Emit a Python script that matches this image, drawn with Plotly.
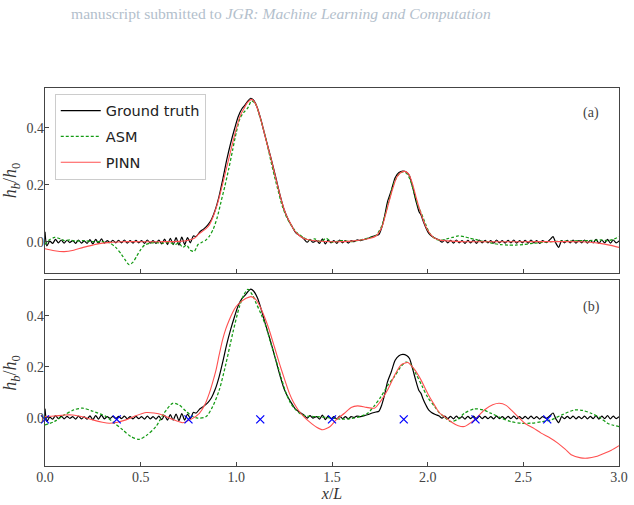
import plotly.graph_objects as go

# ---------------- data ----------------
gt_x = [0.000, 0.010, 0.025, 0.040, 0.055, 0.070, 0.085, 0.100, 0.115, 0.130, 0.145, 0.160, 0.175, 0.190,
        0.205, 0.220, 0.235, 0.250, 0.265, 0.280, 0.295, 0.310, 0.325, 0.340, 0.355, 0.370, 0.385, 0.400,
        0.415, 0.430, 0.445, 0.460, 0.475, 0.490, 0.505, 0.520, 0.535, 0.550, 0.565, 0.580, 0.595, 0.610,
        0.625, 0.640, 0.655, 0.670, 0.685, 0.700, 0.715, 0.730, 0.745, 0.760, 0.775, 0.790, 0.810, 0.830,
        0.850, 0.870, 0.890, 0.910, 0.930, 0.950, 0.970, 0.990, 1.010, 1.030, 1.045, 1.060, 1.075, 1.090,
        1.110, 1.130, 1.150, 1.170, 1.190, 1.210, 1.230, 1.250, 1.270, 1.290, 1.310, 1.330, 1.350, 1.370,
        1.385, 1.400, 1.420, 1.435, 1.450, 1.465, 1.480, 1.495, 1.510, 1.525, 1.540, 1.555, 1.570, 1.585,
        1.600, 1.615, 1.630, 1.650, 1.670, 1.690, 1.710, 1.730, 1.745, 1.760, 1.775, 1.790, 1.810, 1.830,
        1.850, 1.870, 1.890, 1.905, 1.920, 1.940, 1.955, 1.965, 1.975, 1.990, 2.005, 2.020, 2.040, 2.060,
        2.075, 2.090, 2.105, 2.120, 2.135, 2.150, 2.165, 2.180, 2.195, 2.210, 2.225, 2.240, 2.255, 2.270,
        2.285, 2.300, 2.315, 2.330, 2.345, 2.360, 2.375, 2.390, 2.405, 2.420, 2.435, 2.450, 2.465, 2.480,
        2.495, 2.510, 2.525, 2.540, 2.555, 2.570, 2.585, 2.600, 2.620, 2.640, 2.655, 2.670, 2.685, 2.700,
        2.715, 2.730, 2.745, 2.760, 2.775, 2.790, 2.805, 2.820, 2.835, 2.850, 2.865, 2.880, 2.895, 2.910,
        2.925, 2.940, 2.955, 2.970, 2.985, 3.000]
gt_y = [0.035, -0.015, 0.002, -0.006, 0.008, -0.004, 0.006, -0.005, 0.005, -0.003, 0.004, -0.006, 0.006, -0.005,
        0.003, -0.006, 0.007, -0.008, 0.008, -0.006, 0.010, -0.005, 0.004, -0.003, 0.005, -0.004, 0.005, -0.004,
        0.006, -0.005, 0.004, -0.005, 0.005, -0.004, 0.004, -0.006, 0.006, -0.005, 0.004, -0.006, 0.006, -0.008,
        0.009, -0.010, 0.012, -0.010, 0.014, -0.012, 0.016, -0.010, 0.014, -0.004, 0.020, 0.018, 0.035, 0.045,
        0.058, 0.078, 0.112, 0.160, 0.222, 0.288, 0.345, 0.395, 0.440, 0.468, 0.480, 0.494, 0.504, 0.497,
        0.470, 0.425, 0.372, 0.322, 0.270, 0.215, 0.160, 0.112, 0.080, 0.055, 0.032, 0.022, 0.012, -0.002,
        0.008, -0.002, 0.004, -0.006, 0.010, -0.008, 0.006, -0.004, 0.004, -0.006, 0.006, -0.004, 0.004, -0.005,
        0.004, 0.000, 0.006, 0.004, 0.008, 0.012, 0.018, 0.022, 0.025, 0.050, 0.090, 0.140, 0.180, 0.225,
        0.243, 0.248, 0.244, 0.232, 0.195, 0.140, 0.105, 0.095, 0.075, 0.050, 0.030, 0.020, 0.012, 0.006,
        -0.002, 0.006, -0.004, 0.005, -0.005, 0.006, -0.004, 0.004, -0.006, 0.005, -0.004, 0.006, -0.006, 0.006,
        -0.004, 0.005, -0.004, 0.004, -0.005, 0.006, -0.004, 0.004, -0.005, 0.005, -0.004, 0.006, -0.005, 0.004,
        -0.004, 0.005, -0.005, 0.006, -0.004, 0.004, -0.006, 0.004, -0.003, 0.008, 0.018, -0.005, -0.020, 0.004,
        -0.004, 0.005, -0.004, 0.006, -0.005, 0.004, -0.004, 0.006, -0.005, 0.005, -0.004, 0.008, -0.006, 0.006,
        -0.004, 0.008, -0.005, 0.006, -0.004, 0.003]

asm_a_x = [0.00, 0.02, 0.05, 0.08, 0.10, 0.13, 0.16, 0.20, 0.25, 0.30, 0.34, 0.37, 0.40, 0.42, 0.44, 0.46,
           0.48, 0.50, 0.52, 0.55, 0.58, 0.62, 0.65, 0.68, 0.70, 0.72, 0.74, 0.76, 0.78, 0.80, 0.82, 0.84,
           0.86, 0.88, 0.90, 0.92, 0.94, 0.96, 0.98, 1.00, 1.02, 1.04, 1.06, 1.08, 1.10, 1.12, 1.14, 1.16,
           1.18, 1.20, 1.22, 1.24, 1.26, 1.28, 1.30, 1.32, 1.35, 1.38, 1.41, 1.44, 1.47, 1.50, 1.55, 1.60,
           1.65, 1.70, 1.73, 1.76, 1.78, 1.80, 1.82, 1.85, 1.87, 1.89, 1.91, 1.93, 1.95, 1.97, 1.99, 2.01,
           2.04, 2.07, 2.10, 2.13, 2.16, 2.19, 2.22, 2.25, 2.28, 2.31, 2.34, 2.38, 2.42, 2.46, 2.50, 2.55,
           2.60, 2.65, 2.70, 2.75, 2.80, 2.85, 2.90, 2.94, 2.97, 3.00]
asm_a_y = [-0.010, 0.005, 0.015, 0.010, 0.004, 0.006, 0.002, 0.004, 0.000, 0.000, -0.005, -0.020, -0.045, -0.065, -0.081, -0.072,
           -0.050, -0.028, -0.012, -0.005, -0.003, -0.005, -0.002, -0.010, -0.005, -0.020, -0.012, -0.030, -0.034, -0.010, -0.002, 0.005,
           0.020, 0.045, 0.085, 0.140, 0.195, 0.255, 0.320, 0.385, 0.435, 0.455, 0.470, 0.495, 0.485, 0.445, 0.400, 0.345,
           0.285, 0.228, 0.175, 0.125, 0.090, 0.065, 0.045, 0.030, 0.015, 0.005, 0.010, 0.000, 0.012, -0.002, 0.004, 0.000,
           0.006, 0.015, 0.022, 0.055, 0.100, 0.150, 0.200, 0.238, 0.245, 0.240, 0.215, 0.170, 0.125, 0.095, 0.060, 0.030,
           0.010, 0.005, 0.010, 0.015, 0.020, 0.018, 0.012, 0.008, 0.002, 0.000, -0.006, -0.010, -0.012, -0.012, -0.010, -0.006,
           -0.002, 0.000, 0.002, 0.002, 0.004, 0.004, 0.006, 0.004, 0.008, 0.018]

pinn_a_x = [0.00, 0.05, 0.10, 0.15, 0.20, 0.25, 0.30, 0.35, 0.40, 0.50, 0.60, 0.70, 0.75, 0.78, 0.80, 0.82,
            0.84, 0.86, 0.88, 0.90, 0.92, 0.94, 0.96, 0.98, 1.00, 1.02, 1.04, 1.06, 1.08, 1.10, 1.12, 1.14,
            1.16, 1.18, 1.20, 1.22, 1.24, 1.26, 1.28, 1.30, 1.32, 1.35, 1.40, 1.50, 1.60, 1.70, 1.73, 1.76,
            1.78, 1.80, 1.82, 1.84, 1.86, 1.88, 1.90, 1.92, 1.94, 1.96, 1.98, 2.00, 2.03, 2.06, 2.10, 2.20,
            2.50, 2.80, 2.85, 2.90, 2.95, 3.00]
pinn_a_y = [-0.025, -0.032, -0.035, -0.030, -0.020, -0.012, -0.005, -0.002, 0.000, 0.000, 0.000, 0.001, 0.005, 0.012, 0.025, 0.035,
            0.045, 0.060, 0.090, 0.130, 0.180, 0.235, 0.290, 0.345, 0.398, 0.442, 0.468, 0.490, 0.500, 0.485, 0.448, 0.398,
            0.345, 0.295, 0.240, 0.185, 0.135, 0.095, 0.068, 0.043, 0.027, 0.012, 0.004, 0.000, 0.002, 0.012, 0.020, 0.050,
            0.095, 0.145, 0.192, 0.228, 0.243, 0.247, 0.238, 0.205, 0.155, 0.110, 0.070, 0.040, 0.015, 0.006, 0.003, 0.000,
            0.000, 0.000, -0.002, -0.006, -0.012, -0.020]

asm_b_x = [0.00, 0.05, 0.10, 0.15, 0.197, 0.25, 0.319, 0.36, 0.406, 0.45, 0.493, 0.53, 0.58, 0.62, 0.667, 0.70,
           0.737, 0.77, 0.798, 0.842, 0.876, 0.911, 0.946, 0.981, 1.016, 1.04, 1.06, 1.085, 1.10, 1.13,
           1.155, 1.18, 1.207, 1.235, 1.26, 1.285, 1.312, 1.34, 1.38, 1.42, 1.48, 1.55, 1.60, 1.65, 1.686, 1.72, 1.756,
           1.79, 1.826, 1.86, 1.887, 1.91, 1.94, 1.97, 2.00, 2.035, 2.06, 2.09, 2.122, 2.16, 2.192, 2.244, 2.29,
           2.331, 2.38, 2.436, 2.49, 2.54, 2.60, 2.645, 2.70, 2.767, 2.81, 2.854, 2.90, 2.94, 2.97, 3.00]
asm_b_y = [-0.029, -0.015, 0.010, 0.030, 0.037, 0.025, 0.004, -0.020, -0.048, -0.075, -0.085, -0.070, -0.035, 0.015, 0.056, 0.050,
           0.025, 0.005, -0.002, 0.004, 0.043, 0.109, 0.213, 0.331, 0.435, 0.483, 0.503, 0.481, 0.455, 0.405,
           0.357, 0.292, 0.226, 0.155, 0.096, 0.055, 0.030, 0.012, 0.005, 0.004, 0.000, -0.006, -0.004, 0.005, 0.017, 0.045, 0.082,
           0.125, 0.161, 0.200, 0.218, 0.210, 0.170, 0.125, 0.080, 0.045, 0.020, 0.000, -0.016, -0.005, 0.017, 0.034, 0.030,
           0.017, 0.000, -0.016, -0.022, -0.022, -0.016, -0.009, 0.010, 0.030, 0.028, 0.017, 0.000, -0.022, -0.030, -0.035]

pinn_b_x = [0.00, 0.05, 0.10, 0.144, 0.20, 0.25, 0.30, 0.336, 0.38, 0.423, 0.47, 0.53, 0.57, 0.615, 0.66, 0.719,
            0.76, 0.807, 0.835, 0.859, 0.875, 0.894, 0.91, 0.928, 0.945, 0.963, 0.98, 0.998, 1.025, 1.051, 1.077, 1.10,
            1.12, 1.15, 1.172, 1.20, 1.225, 1.25, 1.277, 1.30, 1.329, 1.355, 1.381, 1.42, 1.451, 1.49, 1.52, 1.565,
            1.60, 1.634, 1.68, 1.722, 1.75, 1.791, 1.83, 1.861, 1.896, 1.93, 1.965, 2.00, 2.035, 2.06, 2.087, 2.13,
            2.16, 2.192, 2.244, 2.296, 2.34, 2.374, 2.41, 2.436, 2.47, 2.507, 2.55, 2.593, 2.64, 2.68, 2.72, 2.75,
            2.80, 2.836, 2.88, 2.924, 2.96, 3.00]
pinn_b_y = [0.004, 0.006, 0.010, 0.010, 0.002, -0.009, -0.018, -0.022, -0.018, -0.009, 0.006, 0.020, 0.018, 0.010, -0.005, -0.020,
            -0.008, 0.017, 0.050, 0.096, 0.135, 0.187, 0.245, 0.305, 0.348, 0.383, 0.412, 0.435, 0.455, 0.468, 0.475, 0.465,
            0.442, 0.390, 0.344, 0.275, 0.213, 0.155, 0.096, 0.058, 0.024, 0.002, -0.016, -0.038, -0.048, -0.035, -0.010, 0.017,
            0.040, 0.046, 0.040, 0.037, 0.060, 0.109, 0.170, 0.207, 0.216, 0.190, 0.148, 0.095, 0.050, 0.020, 0.004, -0.020,
            -0.032, -0.035, -0.009, 0.030, 0.050, 0.056, 0.048, 0.030, 0.005, -0.022, -0.040, -0.061, -0.080, -0.100, -0.125, -0.146,
            -0.158, -0.159, -0.153, -0.140, -0.128, -0.110]

obs_x = [0.0, 0.375, 0.75, 1.125, 1.5, 1.875, 2.25, 2.625]
obs_y = [-0.007, -0.007, -0.007, -0.007, -0.007, -0.007, -0.007, -0.007]

x_ticks = [0.0, 0.5, 1.0, 1.5, 2.0, 2.5, 3.0]
y_ticks = [0.0, 0.2, 0.4]

# ---------------- styles ----------------
GT_COLOR = "black"
ASM_COLOR = "#139a13"
PINN_COLOR = "#ff5050"
FRAME = "#444444"
SERIF = "Liberation Serif, DejaVu Serif, serif"
SANS = "DejaVu Sans, sans-serif"

fig = go.Figure()

# Panel (a)
fig.add_trace(go.Scatter(x=gt_x, y=gt_y, mode="lines", name="Ground truth", legendgroup="g1",
                         line=dict(color=GT_COLOR, width=1.2, shape="spline", smoothing=0.7), xaxis="x", yaxis="y"))
fig.add_trace(go.Scatter(x=asm_a_x, y=asm_a_y, mode="lines", name="ASM", legendgroup="g2",
                         line=dict(color=ASM_COLOR, width=1.25, dash="3px,2px", shape="spline", smoothing=0.7),
                         xaxis="x", yaxis="y"))
fig.add_trace(go.Scatter(x=pinn_a_x, y=pinn_a_y, mode="lines", name="PINN", legendgroup="g3",
                         line=dict(color=PINN_COLOR, width=1.1, shape="spline", smoothing=0.8), xaxis="x", yaxis="y"))

# Panel (b)
fig.add_trace(go.Scatter(x=gt_x, y=gt_y, mode="lines", showlegend=False,
                         line=dict(color=GT_COLOR, width=1.2, shape="spline", smoothing=0.7), xaxis="x2", yaxis="y2"))
fig.add_trace(go.Scatter(x=asm_b_x, y=asm_b_y, mode="lines", showlegend=False,
                         line=dict(color=ASM_COLOR, width=1.25, dash="3px,2px", shape="spline", smoothing=0.8),
                         xaxis="x2", yaxis="y2"))
fig.add_trace(go.Scatter(x=pinn_b_x, y=pinn_b_y, mode="lines", showlegend=False,
                         line=dict(color=PINN_COLOR, width=1.1, shape="spline", smoothing=0.6), xaxis="x2", yaxis="y2"))
fig.add_trace(go.Scatter(x=obs_x, y=obs_y, mode="markers", showlegend=False,
                         marker=dict(symbol="x-thin", size=8, line=dict(color="#0000ff", width=1.3)),
                         xaxis="x2", yaxis="y2", cliponaxis=False))

axis_common = dict(showline=True, mirror=True, linecolor=FRAME, linewidth=1.3, automargin=False,
                   ticks="inside", ticklen=4, tickcolor=FRAME, showgrid=False, zeroline=False,
                   tickfont=dict(family=SERIF, size=14, color="#444444"))

ytitle = "<i>h</i><sub><i>b</i></sub>/<i>h</i><sub>0</sub>"
title_font = dict(family=SERIF, size=18, color="#333333")

fig.update_layout(
    width=634, height=505,
    margin=dict(l=45, r=15, t=88, b=39),
    paper_bgcolor="white", plot_bgcolor="white",
    showlegend=True,
    legend=dict(x=0.017, y=0.985, xanchor="left", yanchor="top",
                bgcolor="rgba(255,255,255,0.9)", bordercolor="#cccccc", borderwidth=1,
                font=dict(family=SANS, size=14.5, color="#222222"), tracegroupgap=4,
                itemwidth=40),
    xaxis=dict(axis_common, domain=[0, 1], range=[0, 3], anchor="y", tickvals=x_ticks,
               showticklabels=False),
    yaxis=dict(axis_common, domain=[0.5106, 1], range=[-0.11, 0.54], anchor="x",
               tickvals=y_ticks, tickformat=".1f", ticklabelstandoff=-3,
               title=dict(text=ytitle, font=title_font, standoff=6)),
    xaxis2=dict(axis_common, domain=[0, 1], range=[0, 3], anchor="y2", tickvals=x_ticks,
                tickformat=".1f", matches="x", ticklabelstandoff=-2,
                title=dict(text="<i>x</i>/<i>L</i>", font=dict(family=SERIF, size=16, color="#333333"), standoff=2)),
    yaxis2=dict(axis_common, domain=[0, 0.492], range=[-0.19, 0.54], anchor="x2",
                tickvals=y_ticks, tickformat=".1f", ticklabelstandoff=-3,
                title=dict(text=ytitle, font=title_font, standoff=6)),
    annotations=[
        dict(text="manuscript submitted to <i>JGR: Machine Learning and Computation</i>",
             xref="paper", yref="paper", x=(280.5 - 45) / 574.0, y=1.0 + (88 - 13) / 378.0,
             xanchor="center", yanchor="middle",
             showarrow=False, font=dict(family=SERIF, size=15.6, color="#b3c0cc")),
        dict(text="(a)", xref="x", yref="paper", x=2.855, y=1.0 - (113 - 88) / 378.0,
             xanchor="center", yanchor="middle", showarrow=False,
             font=dict(family=SERIF, size=14, color="#444444")),
        dict(text="(b)", xref="x", yref="paper", x=2.855, y=0.492 - (307 - 280) / 378.0,
             xanchor="center", yanchor="middle", showarrow=False,
             font=dict(family=SERIF, size=14, color="#444444")),
    ],
)

fig.write_html("out.html")
